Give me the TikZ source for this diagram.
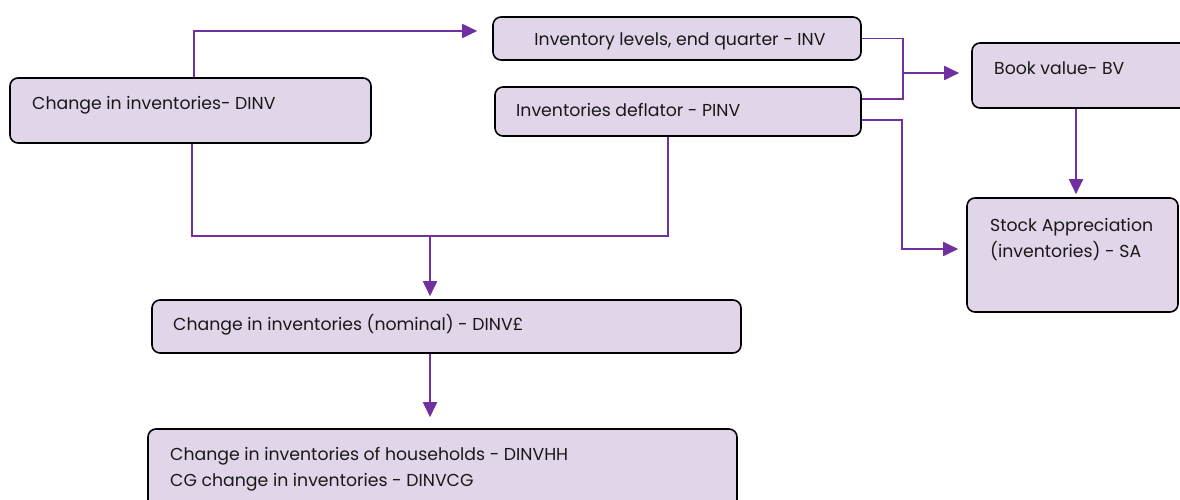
\documentclass[tikz,border=0pt]{standalone}
\usepackage{fontspec}
\setmainfont{Poppins}
\usetikzlibrary{arrows.meta}
\definecolor{boxfill}{RGB}{224,213,233}
\definecolor{flow}{RGB}{112,48,160}
\begin{document}
\begin{tikzpicture}[x=1pt,y=-1pt,
  box/.style={draw=black, line width=1.6pt, fill=boxfill, rounded corners=8pt, inner sep=0pt},
  lbl/.style={font=\fontsize{17.3}{26}\selectfont, inner sep=0pt, anchor=base west, text=black!90},
  link/.style={draw=flow, line width=1.8pt},
  arr/.style={link, -{Triangle[length=15pt,width=14pt]}}]
\useasboundingbox (0,0) rectangle (1180,500);

% boxes
\node[box, minimum width=361pt, minimum height=65pt] (dinv)  at (190.5,110.5) {};
\node[box, minimum width=368pt, minimum height=43pt] (inv)   at (677,38.5) {};
\node[box, minimum width=366pt, minimum height=49pt] (pinv)  at (678,111.5) {};
\node[box, minimum width=218pt, minimum height=65pt] (bv)    at (1081,75.5) {};
\node[box, minimum width=211pt, minimum height=114pt] (sa)   at (1072.5,255) {};
\node[box, minimum width=589pt, minimum height=53pt] (dinvn) at (446.5,326.5) {};
\node[box, minimum width=589pt, minimum height=83pt] (hh)    at (442.5,470.5) {};

% labels
\node[lbl] (tdinv) at (32,110) {Change in inventories- DINV};
\node[lbl, anchor=base] (tinv) at (680,46) {Inventory levels, end quarter - INV};
\node[lbl] (tpinv) at (516,117) {Inventories deflator - PINV};
\node[lbl] (tbv) at (994,75) {Book value- BV};
\node[lbl, anchor=north west, align=left] (tsa) at (990,218) {Stock Appreciation\\(inventories) - SA};
\node[lbl, anchor=north west, align=left] (thh) at (170,447) {Change in inventories of households - DINVHH\\CG change in inventories - DINVCG};
\node[lbl] (tdinvn) at (173,330) {Change in inventories (nominal) - DINV£};

% junction points
\coordinate (j1) at (903,73);
\coordinate (k)  at (902,249);
\coordinate (m)  at (430,236);

% connectors
\draw[arr] ([xshift=3.5pt]dinv.north) |- ([xshift=-15pt,yshift=7.5pt]inv.west);
\draw[link] (inv.east) -| (j1) |- ([yshift=12.5pt]pinv.east);
\draw[arr, shorten >=12pt] (j1) -- (j1 -| bv.west);
\draw[arr] ([yshift=-8.5pt]pinv.east) -| (k) -- ([xshift=-8pt]k -| sa.west);
\draw[arr, shorten >=3pt] ([xshift=-5pt]bv.south) -- ([xshift=-5pt]bv.south |- sa.north);
\draw[link] ([xshift=1.5pt]dinv.south) |- (m) -| ([xshift=-10pt]pinv.south);
\draw[arr, shorten >=3pt] (m) -- (m |- dinvn.north);
\draw[arr, shorten >=11pt] ([xshift=-16.5pt]dinvn.south) -- ([xshift=-16.5pt]dinvn.south |- hh.north);
\end{tikzpicture}
\end{document}
